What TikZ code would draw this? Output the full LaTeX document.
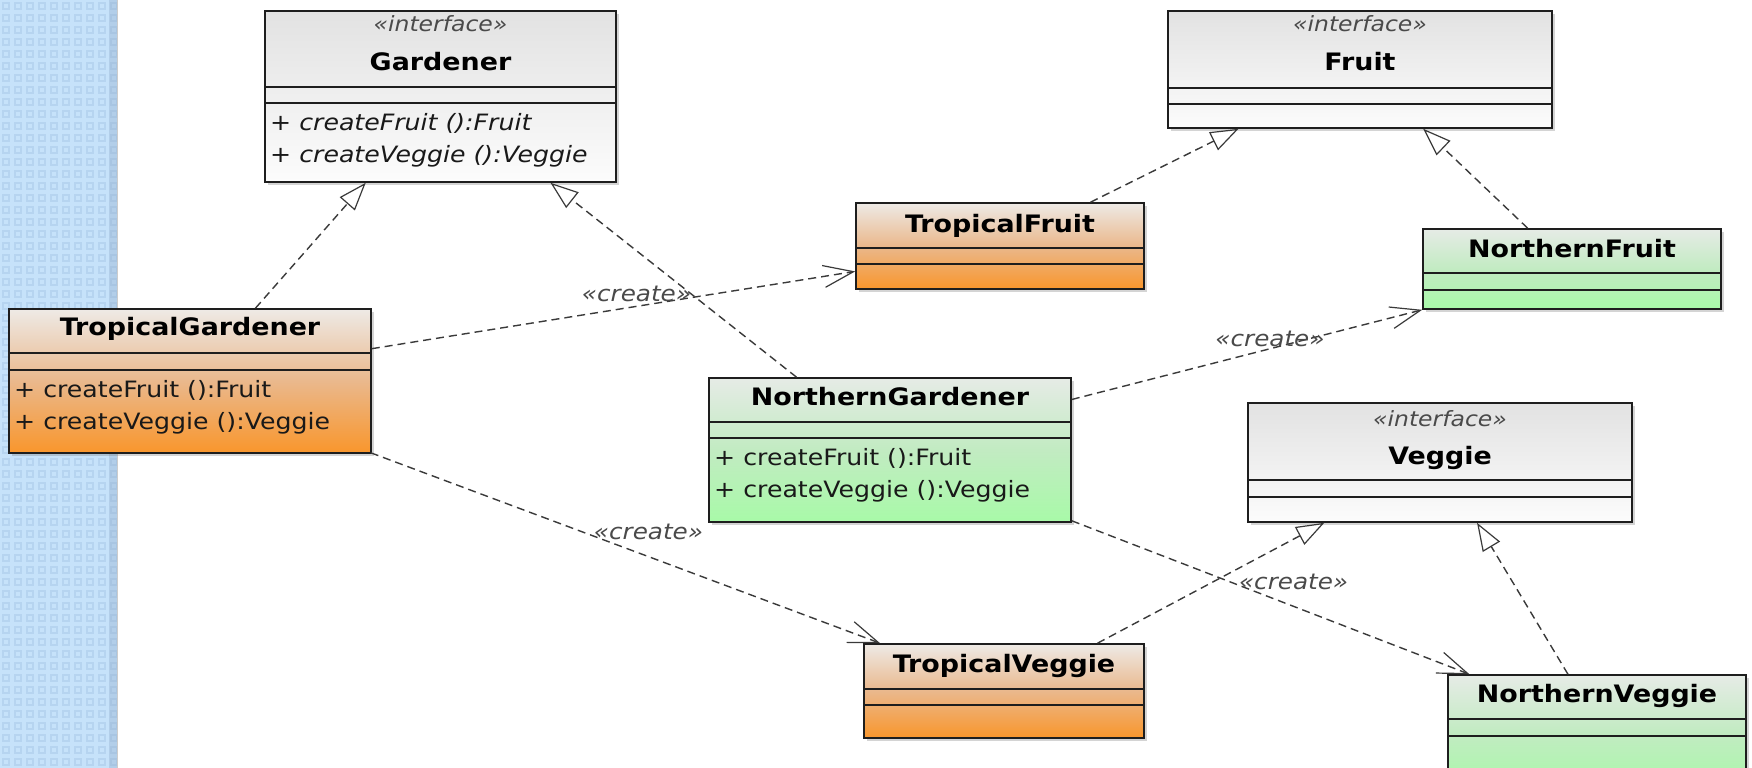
\documentclass[tikz,border=0pt]{standalone}
\usepackage{fontspec}
\usetikzlibrary{arrows.meta,calc,shadows}
\newfontfamily\umlfont[FakeStretch=1.12]{DejaVu Sans}

\definecolor{boxedge}{HTML}{1E1E1E}
\definecolor{linegray}{HTML}{3A3A3A}
\definecolor{stereogray}{HTML}{4A4A4A}
\definecolor{ifTop}{HTML}{E2E2E2}
\definecolor{ifBot}{HTML}{FCFCFC}
\definecolor{trTop}{HTML}{EEEAE6}
\definecolor{trMid}{HTML}{EAB88C}
\definecolor{trBot}{HTML}{F9962C}
\definecolor{noTop}{HTML}{E6EBE6}
\definecolor{noMid}{HTML}{C2EBC2}
\definecolor{noBot}{HTML}{A8FAA8}
\definecolor{stripBase}{HTML}{C6E2FA}
\definecolor{stripDark}{HTML}{B6D4F0}
\definecolor{stripEdge}{HTML}{8EAACA}

\tikzset{
  umlbox/.style={draw=boxedge, line width=1.6bp, inner sep=0pt,
    drop shadow={shadow xshift=3bp, shadow yshift=-3bp, opacity=0.3, fill=black!55}},
  ifacebox/.style={umlbox, top color=ifTop, bottom color=ifBot},
  tropbox/.style={umlbox, top color=trTop, bottom color=trBot, middle color=trMid},
  northbox/.style={umlbox, top color=noTop, bottom color=noBot, middle color=noMid},
  sep/.style={draw=boxedge, line width=1.6bp},
  cname/.style={font=\umlfont\fontsize{24bp}{28bp}\selectfont\bfseries, inner sep=0pt, anchor=base},
  stereo/.style={font=\umlfont\fontsize{21bp}{25bp}\selectfont\itshape, text=stereogray, inner sep=0pt, anchor=base},
  meth/.style={font=\umlfont\fontsize{22.5bp}{26bp}\selectfont, text=black!90, inner sep=0pt, anchor=base west},
  absmeth/.style={meth, font=\umlfont\fontsize{22.5bp}{26bp}\selectfont\itshape},
  realize/.style={draw=linegray, line width=1.4bp, dash pattern=on 8bp off 5bp,
    -{Triangle[length=28bp, width=20bp, fill=white, line width=1.2bp]}},
  dep/.style={draw=linegray, line width=1.4bp, dash pattern=on 8bp off 5bp,
    -{Straight Barb[length=30bp, width=22bp, line width=1.2bp]}},
  createlbl/.style={font=\umlfont\fontsize{22bp}{26bp}\selectfont\itshape, text=stereogray,
    inner sep=0pt, xshift=23bp, yshift=16bp}
}

\begin{document}
\begin{tikzpicture}[x=1bp, y=-1bp]
\path[use as bounding box] (0,0) rectangle (1752,768);
\clip (0,0) rectangle (1752,768);
\fill[white] (0,0) rectangle (1752,768);

% tiled side band
\fill[stripBase] (0,0) rectangle (117,768);
\foreach \i in {0,...,9}{
  \foreach \j in {0,...,63}{
    \fill[stripDark] (\i*12+2,\j*12+2) rectangle +(8,8);
    \fill[stripBase] (\i*12+4,\j*12+4) rectangle +(4,4);
  }
}
\fill[stripEdge, opacity=0.35] (109,0) rectangle (117,768);
\draw[black!20, line width=1bp] (117.5,0) -- (117.5,768);

% ---- interfaces ----
\node[ifacebox, minimum width=351bp, minimum height=171bp] (gardener) at (440.5,96.5) {};
\draw[sep] (gardener.west |- 0,87) -- (gardener.east |- 0,87);
\draw[sep] (gardener.west |- 0,103) -- (gardener.east |- 0,103);
\node[stereo] (gardener-st) at (440.5,32) {«interface»};
\node[cname] (gardener-nm) at (440.5,71) {Gardener};
\node[absmeth] (gardener-m1) at (270,130) {+ createFruit ():Fruit};
\node[absmeth] (gardener-m2) at (270,162) {+ createVeggie ():Veggie};

\node[ifacebox, minimum width=384bp, minimum height=117bp] (fruit) at (1360,69.5) {};
\draw[sep] (fruit.west |- 0,88) -- (fruit.east |- 0,88);
\draw[sep] (fruit.west |- 0,104) -- (fruit.east |- 0,104);
\node[stereo] (fruit-st) at (1360,32) {«interface»};
\node[cname] (fruit-nm) at (1360,71) {Fruit};

\node[ifacebox, minimum width=384bp, minimum height=119bp] (veggie) at (1440,462.5) {};
\draw[sep] (veggie.west |- 0,480) -- (veggie.east |- 0,480);
\draw[sep] (veggie.west |- 0,497) -- (veggie.east |- 0,497);
\node[stereo] (veggie-st) at (1440,426) {«interface»};
\node[cname] (veggie-nm) at (1440,464) {Veggie};

% ---- tropical family ----
\node[tropbox, minimum width=362bp, minimum height=144bp] (tgard) at (190,381) {};
\draw[sep] (tgard.west |- 0,353) -- (tgard.east |- 0,353);
\draw[sep] (tgard.west |- 0,370) -- (tgard.east |- 0,370);
\node[cname] (tgard-nm) at (190,335) {TropicalGardener};
\node[meth] (tgard-m1) at (14,397) {+ createFruit ():Fruit};
\node[meth] (tgard-m2) at (14,429) {+ createVeggie ():Veggie};

\node[tropbox, minimum width=288bp, minimum height=86bp] (tfruit) at (1000,246) {};
\draw[sep] (tfruit.west |- 0,248) -- (tfruit.east |- 0,248);
\draw[sep] (tfruit.west |- 0,264) -- (tfruit.east |- 0,264);
\node[cname] (tfruit-nm) at (1000,232) {TropicalFruit};

\node[tropbox, minimum width=280bp, minimum height=94bp] (tveg) at (1004,691) {};
\draw[sep] (tveg.west |- 0,689) -- (tveg.east |- 0,689);
\draw[sep] (tveg.west |- 0,705) -- (tveg.east |- 0,705);
\node[cname] (tveg-nm) at (1004,672) {TropicalVeggie};

% ---- northern family ----
\node[northbox, minimum width=362bp, minimum height=144bp] (ngard) at (890,450) {};
\draw[sep] (ngard.west |- 0,422) -- (ngard.east |- 0,422);
\draw[sep] (ngard.west |- 0,438) -- (ngard.east |- 0,438);
\node[cname] (ngard-nm) at (890,405) {NorthernGardener};
\node[meth] (ngard-m1) at (714,465) {+ createFruit ():Fruit};
\node[meth] (ngard-m2) at (714,497) {+ createVeggie ():Veggie};

\node[northbox, minimum width=298bp, minimum height=80bp] (nfruit) at (1572,269) {};
\draw[sep] (nfruit.west |- 0,273) -- (nfruit.east |- 0,273);
\draw[sep] (nfruit.west |- 0,290) -- (nfruit.east |- 0,290);
\node[cname] (nfruit-nm) at (1572,257) {NorthernFruit};

\node[northbox, minimum width=298bp, minimum height=115bp] (nveg) at (1597,732.5) {};
\draw[sep] (nveg.west |- 0,719) -- (nveg.east |- 0,719);
\draw[sep] (nveg.west |- 0,736) -- (nveg.east |- 0,736);
\node[cname] (nveg-nm) at (1597,702) {NorthernVeggie};

% ---- realizations ----
\draw[realize] ($(tgard.north west)!0.68!(tgard.north east)$) -- ($(gardener.south west)!0.288!(gardener.south east)$);
\draw[realize] ($(ngard.north west)!0.243!(ngard.north east)$) -- ($(gardener.south west)!0.812!(gardener.south east)$);
\draw[realize] ($(tfruit.north west)!0.8125!(tfruit.north east)$) -- ($(fruit.south west)!0.185!(fruit.south east)$);
\draw[realize] ($(nfruit.north west)!0.352!(nfruit.north east)$) -- ($(fruit.south west)!0.664!(fruit.south east)$);
\draw[realize] ($(tveg.north west)!0.832!(tveg.north east)$) -- ($(veggie.south west)!0.2!(veggie.south east)$);
\draw[realize] ($(nveg.north west)!0.403!(nveg.north east)$) -- ($(veggie.south west)!0.596!(veggie.south east)$);

% ---- creations ----
\draw[dep] ($(tgard.north east)!0.278!(tgard.south east)$) -- node[createlbl] (l1) {«create»} ($(tfruit.north west)!0.79!(tfruit.south west)$);
\draw[dep] ($(tgard.south east)+(-1,-1)$) -- node[createlbl] (l2) {«create»} ($(tveg.north west)!0.06!(tveg.north east)$);
\draw[dep] ($(ngard.north east)!0.153!(ngard.south east)$) -- node[createlbl] (l3) {«create»} (nfruit.south west);
\draw[dep] ($(ngard.south east)+(0,-2)$) -- node[createlbl] (l4) {«create»} ($(nveg.north west)!0.074!(nveg.north east)$);
\end{tikzpicture}
\end{document}
